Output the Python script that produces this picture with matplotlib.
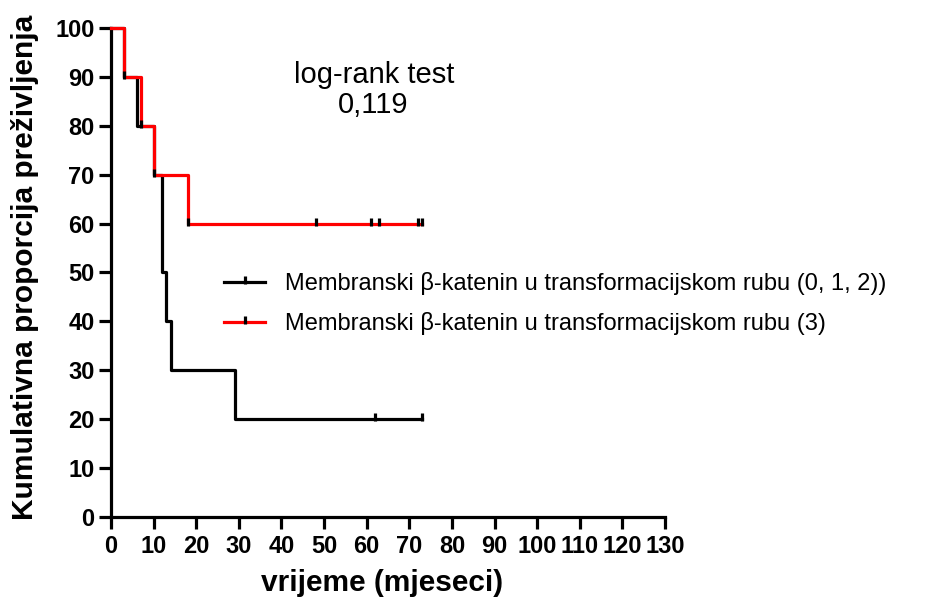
import numpy as np
import matplotlib
matplotlib.use("Agg")
import matplotlib.pyplot as plt
from matplotlib.path import Path
from matplotlib.lines import Line2D

plt.rcParams['font.family'] = ['Liberation Sans', 'DejaVu Sans']

# Kaplan-Meier steps
black_times = [0, 3, 6, 10, 12, 13, 14, 29, 73]
black_surv = [100, 90, 80, 70, 50, 40, 30, 20, 20]
red_times = [0, 3, 7, 10, 18, 73]
red_surv = [100, 90, 80, 70, 60, 60]

# censored observations
black_cens = [3, 7, 10, 62, 73]
red_cens = [18, 48, 61, 63, 72, 73]

labels = ["Membranski β-katenin u transformacijskom rubu (0, 1, 2))",
          "Membranski β-katenin u transformacijskom rubu (3)"]
x_ticks = list(range(0, 131, 10))
y_ticks = list(range(0, 101, 10))


def level_at(times, surv, t):
    i = np.searchsorted(times, t, side='right') - 1
    return np.asarray(surv)[i]


# censor tick: mostly above the line
tick = Path([(0, -2), (0, 6)], [Path.MOVETO, Path.LINETO])

fig = plt.figure(figsize=(9.53, 6.06), dpi=100)
ax = fig.add_axes([0.1165, 0.1469, 0.5813, 0.807])

ax.step(black_times, black_surv, where='post', color='black', lw=2.3,
        clip_on=False, zorder=3)
ax.step(red_times, red_surv, where='post', color='#ff0000', lw=2.3,
        clip_on=False, zorder=4)

ax.plot(black_cens, level_at(black_times, black_surv, black_cens), ls='none',
        marker=tick, ms=9, mew=2.3, mec='black', clip_on=False, zorder=5)
ax.plot(red_cens, level_at(red_times, red_surv, red_cens), ls='none',
        marker=tick, ms=9, mew=2.3, mec='black', clip_on=False, zorder=5)

ax.set_xlim(0, 130)
ax.set_ylim(0, 100)
ax.set_xticks(x_ticks)
ax.set_yticks(y_ticks)
ax.spines['top'].set_visible(False)
ax.spines['right'].set_visible(False)
ax.spines['left'].set_linewidth(2.3)
ax.spines['bottom'].set_linewidth(2.3)
ax.tick_params(direction='out', length=8.5, width=2.3, labelsize=17)
ax.tick_params(axis='x', pad=4.5)
ax.tick_params(axis='y', pad=3.3)
for lab in ax.get_xticklabels() + ax.get_yticklabels():
    lab.set_fontweight('bold')

ax.set_xlabel("vrijeme (mjeseci)", fontsize=21.5, fontweight='bold')
ax.set_ylabel("Kumulativna proporcija preživljenja", fontsize=21.5,
              fontweight='bold')
ax.xaxis.set_label_coords(0.49, -0.136)
ax.xaxis.label.set_va('center')
ax.yaxis.set_label_coords(-0.155, 0.51)
ax.yaxis.label.set_va('center')

fig.text(374 / 953, 1 - 75 / 606, "log-rank test", ha='center', va='center',
         fontsize=21)
fig.text(373 / 953, 1 - 105 / 606, "0,119", ha='center', va='center',
         fontsize=21)

handles = [Line2D([], [], color='black', lw=2.3, marker=tick, ms=9, mew=2.3,
                  mec='black'),
           Line2D([], [], color='#ff0000', lw=2.3, marker=tick, ms=9, mew=2.3,
                  mec='black')]
fig.legend(handles, labels, loc='upper left',
           bbox_to_anchor=(224 / 953, 1 - 272 / 606), frameon=False,
           fontsize=17, handlelength=1.74, handletextpad=0.85, borderpad=0,
           borderaxespad=0, labelspacing=0.72, numpoints=1)

fig.savefig("out.png", dpi=100)
